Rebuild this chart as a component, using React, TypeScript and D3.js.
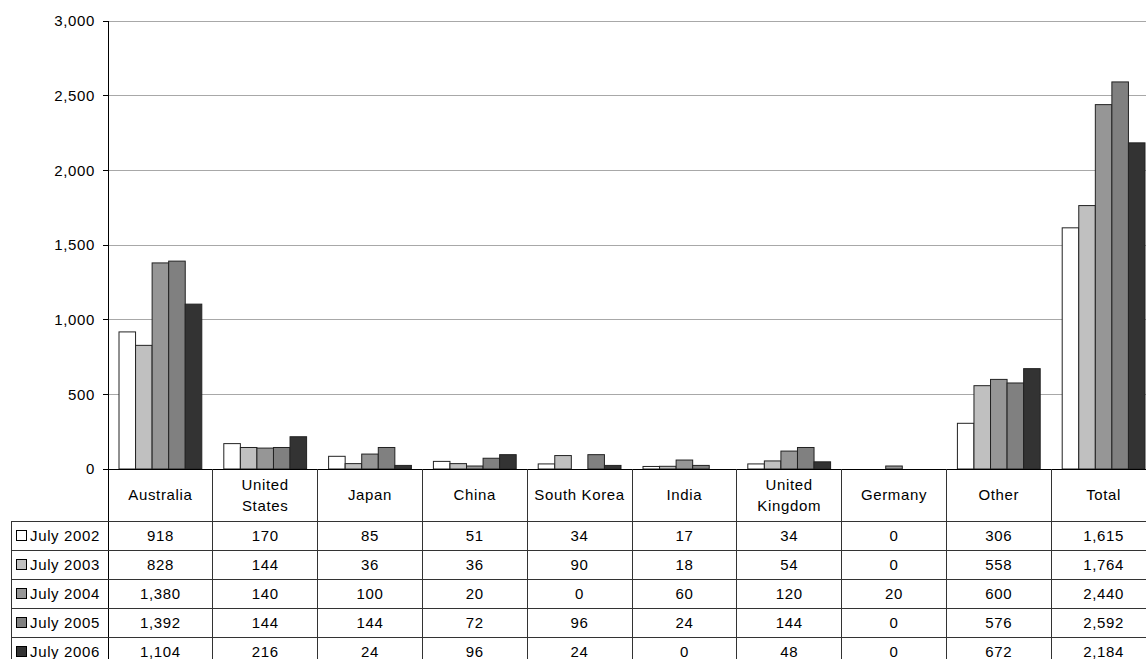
import React from "react";
import * as d3 from "d3";

const categories = ["Australia", "United States", "Japan", "China", "South Korea", "India", "United Kingdom", "Germany", "Other", "Total"];
const categoryLines = [["Australia"], ["United", "States"], ["Japan"], ["China"], ["South Korea"], ["India"], ["United", "Kingdom"], ["Germany"], ["Other"], ["Total"]];
const seriesNames = ["July 2002", "July 2003", "July 2004", "July 2005", "July 2006"];
const july2002 = [918, 170, 85, 51, 34, 17, 34, 0, 306, 1615];
const july2003 = [828, 144, 36, 36, 90, 18, 54, 0, 558, 1764];
const july2004 = [1380, 140, 100, 20, 0, 60, 120, 20, 600, 2440];
const july2005 = [1392, 144, 144, 72, 96, 24, 144, 0, 576, 2592];
const july2006 = [1104, 216, 24, 96, 24, 0, 48, 0, 672, 2184];
const seriesValues = [july2002, july2003, july2004, july2005, july2006];
const seriesColors = ["#ffffff", "#c0c0c0", "#969696", "#808080", "#333333"];
const yTicks = [0, 500, 1000, 1500, 2000, 2500, 3000];

const W = 1146, H = 659;
const plotLeft = 108, plotTop = 21, plotBottom = 469;
const catW = 104.8;
const plotRight = plotLeft + catW * categories.length;
const tableLeft = 11;
const headerBottom = 521;
const rowH = 29;
const font = "'Liberation Sans', Arial, sans-serif";
const fs = 15;
const ls = 0.65;

export default function App() {
  const x = d3.scaleBand<string>().domain(categories).range([plotLeft, plotRight]).paddingInner(0.21).paddingOuter(0.105);
  const xOuter = d3.scaleBand<string>().domain(categories).range([plotLeft, plotRight]);
  const xs = d3.scaleBand<string>().domain(seriesNames).range([0, x.bandwidth()]);
  const y = d3.scaleLinear().domain([0, 3000]).range([plotBottom, plotTop]);
  const fmt = d3.format(",");
  const rowsBottom = headerBottom + rowH * seriesNames.length;

  return (
    <svg width={W} height={H} style={{ position: "absolute", left: 0, top: 0, background: "#fff" }} fontFamily={font}>
      {/* gridlines */}
      {yTicks.filter(t => t > 0).map(t => (
        <line key={"g" + t} x1={plotLeft} x2={W} y1={y(t)} y2={y(t)} stroke="#a8a8a8" strokeWidth={1} shapeRendering="crispEdges" />
      ))}
      {/* y ticks & labels */}
      {yTicks.map(t => (
        <g key={"t" + t}>
          <line x1={plotLeft - 5} x2={plotLeft} y1={y(t)} y2={y(t)} stroke="#000" shapeRendering="crispEdges" />
          <text x={plotLeft - 13} y={y(t)} dy="0.35em" textAnchor="end" fontSize={fs} letterSpacing={ls} fill="#000">{fmt(t)}</text>
        </g>
      ))}
      {/* bars */}
      {categories.map((c, ci) => (
        <g key={"c" + c}>
          {seriesNames.map((s, si) => {
            const v = seriesValues[si][ci];
            if (v <= 0) return null;
            return (
              <rect key={s} x={(x(c) as number) + (xs(s) as number)} y={y(v)} width={xs.bandwidth()} height={y(0) - y(v)}
                fill={seriesColors[si]} stroke="#222" strokeWidth={1} />
            );
          })}
        </g>
      ))}
      {/* y axis */}
      <line x1={plotLeft} x2={plotLeft} y1={plotTop} y2={rowsBottom} stroke="#000" shapeRendering="crispEdges" />
      {/* x axis / table top */}
      <line x1={plotLeft - 5} x2={W} y1={plotBottom} y2={plotBottom} stroke="#000" shapeRendering="crispEdges" />
      {/* category separators */}
      {categories.map((c, ci) => ci > 0 ? (
        <line key={"v" + c} x1={xOuter(c) as number} x2={xOuter(c) as number} y1={plotBottom} y2={rowsBottom} stroke="#333" shapeRendering="crispEdges" />
      ) : null)}
      {/* table horizontal lines */}
      {seriesNames.map((s, si) => (
        <line key={"h" + s} x1={tableLeft} x2={W} y1={headerBottom + si * rowH} y2={headerBottom + si * rowH} stroke="#333" shapeRendering="crispEdges" />
      ))}
      <line x1={tableLeft} x2={tableLeft} y1={headerBottom} y2={rowsBottom} stroke="#333" shapeRendering="crispEdges" />
      {/* header labels */}
      {categories.map((c, ci) => {
        const lines = categoryLines[ci];
        const cx = (xOuter(c) as number) + xOuter.bandwidth() / 2;
        const cy = (plotBottom + headerBottom) / 2;
        return (
          <text key={"hl" + c} x={cx} textAnchor="middle" fontSize={fs} letterSpacing={ls} fill="#000">
            {lines.map((l, li) => (
              <tspan key={li} x={cx} y={cy + (li - (lines.length - 1) / 2) * 21} dy="0.35em">{l}</tspan>
            ))}
          </text>
        );
      })}
      {/* table rows */}
      {seriesNames.map((s, si) => {
        const cy = headerBottom + si * rowH + rowH / 2;
        return (
          <g key={"r" + s}>
            <rect x={16.5} y={cy - 5} width={10} height={10} fill={seriesColors[si]} stroke="#000" strokeWidth={1} />
            <text x={30} y={cy} dy="0.35em" fontSize={fs} letterSpacing={ls} fill="#000">{s}</text>
            {categories.map((c, ci) => (
              <text key={c} x={(xOuter(c) as number) + xOuter.bandwidth() / 2} y={cy} dy="0.35em" textAnchor="middle" fontSize={fs} letterSpacing={ls} fill="#000">
                {fmt(seriesValues[si][ci])}
              </text>
            ))}
          </g>
        );
      })}
    </svg>
  );
}
